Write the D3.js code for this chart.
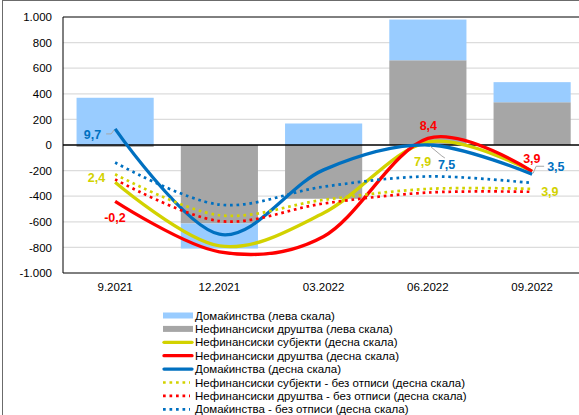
<!DOCTYPE html>
<html>
<head>
<meta charset="utf-8">
<script src="https://cdn.jsdelivr.net/npm/d3@7"></script>
<style>
  html, body { margin: 0; padding: 0; background: #fff; }
  svg { display: block; font-family: "Liberation Sans", Arial, sans-serif; }
</style>
</head>
<body>
<svg id="chart" width="579" height="415"></svg>
<script>
// Quarters on the horizontal axis
const categories = ["9.2021", "12.2021", "03.2022", "06.2022", "09.2022"];

// Bars, left scale (million denars)
const householdsBar = [369, -196, 168, 318, 157];
const corporatesBar = [-15, -613, -420, 662, 334];

// Lines, right scale (growth rates, %)
const nonFinSubjects = [2.4, -6.3, -1.8, 7.9, 3.9];
const nonFinCorporates = [-0.2, -7.1, -5.0, 8.4, 3.9];
const householdsRate = [9.7, -4.7, 4.1, 7.5, 3.5];
const nonFinSubjectsExWo = [3.5, -2.1, 0.0, 1.5, 1.5];
const nonFinCorporatesExWo = [2.8, -2.9, -0.5, 1.0, 1.1];
const householdsRateExWo = [5.1, -0.65, 1.8, 3.2, 2.3];

// Axis ticks
const leftTicks = [-1000, -800, -600, -400, -200, 0, 200, 400, 600, 800, 1000];

// Legend texts
const legendLabels = [
  "Домаќинства (лева скала)",
  "Нефинансиски друштва (лева скала)",
  "Нефинансиски субјекти (десна скала)",
  "Нефинансиски друштва (десна скала)",
  "Домаќинства (десна скала)",
  "Нефинансиски субјекти - без отписи (десна скала)",
  "Нефинансиски друштва - без отписи (десна скала)",
  "Домаќинства - без отписи (десна скала)"
];

const C = {
  lightBlue: "#99CCFF",
  gray: "#A6A6A6",
  yellow: "#D2D200",
  red: "#FF0000",
  blue: "#0070C0"
};

const svg = d3.select("#chart");
const plot = { left: 63, top: 17, right: 584.25, bottom: 273 };

// Outer chart frame
svg.append("rect")
  .attr("x", 2.5).attr("y", 0.5)
  .attr("width", 700).attr("height", 600)
  .attr("fill", "none").attr("stroke", "#6b6b6b").attr("stroke-width", 1);

const x = d3.scaleBand().domain(categories)
  .range([plot.left, plot.right]).paddingInner(0.26).paddingOuter(0.13);
const yL = d3.scaleLinear().domain([-1000, 1000]).range([plot.bottom, plot.top]);
const yR = d3.scaleLinear().domain([-10, 25]).range([plot.bottom, plot.top]);

const mk = d3.formatLocale({ decimal: ",", thousands: ".", grouping: [3], currency: ["", ""], minus: "-" });
const fmtTick = mk.format(",d");
const fmtVal = mk.format(".1f");

// Gridlines
svg.append("g").selectAll("line")
  .data(leftTicks.filter(d => d !== 0 && d !== -1000 && d !== 1000))
  .join("line")
  .attr("x1", plot.left).attr("x2", plot.right)
  .attr("y1", d => yL(d)).attr("y2", d => yL(d))
  .attr("stroke", "#DCDCDC").attr("stroke-width", 1.2);

// Stacked bars (diverging around zero)
const rows = categories.map((c, i) => ({ cat: c, corp: corporatesBar[i], hh: householdsBar[i] }));
const stack = d3.stack().keys(["corp", "hh"]).offset(d3.stackOffsetDiverging)(rows);
const barColor = { corp: C.gray, hh: C.lightBlue };
svg.append("g").selectAll("g")
  .data(stack).join("g")
  .attr("fill", d => barColor[d.key])
  .selectAll("rect")
  .data(d => d).join("rect")
  .attr("x", d => x(d.data.cat))
  .attr("width", x.bandwidth())
  .attr("y", d => yL(Math.max(d[0], d[1])))
  .attr("height", d => Math.abs(yL(d[0]) - yL(d[1])));

// Plot frame and zero line
const frame = svg.append("g").attr("stroke", "#000").attr("stroke-width", 1);
frame.append("line").attr("x1", plot.left).attr("x2", plot.right)
  .attr("y1", plot.top).attr("y2", plot.top);
frame.append("line").attr("x1", plot.left).attr("x2", plot.right)
  .attr("y1", plot.bottom).attr("y2", plot.bottom);
frame.append("line").attr("x1", plot.left).attr("x2", plot.left)
  .attr("y1", plot.top).attr("y2", plot.bottom);
frame.append("line").attr("x1", plot.left).attr("x2", plot.right)
  .attr("y1", yL(0)).attr("y2", yL(0)).attr("stroke-width", 1.3);

// Left axis labels
const axisL = d3.axisLeft(yL).tickValues(leftTicks).tickFormat(fmtTick).tickSize(0).tickPadding(11);
const gL = svg.append("g").attr("transform", `translate(${plot.left},0)`).call(axisL);
gL.select(".domain").remove();
gL.selectAll("text").attr("font-size", 11.5).attr("fill", "#000")
  .attr("font-family", "'Liberation Sans', Arial, sans-serif");

// Category labels
const axisB = d3.axisBottom(x).tickSize(0).tickPadding(10);
const gB = svg.append("g").attr("transform", `translate(0,${plot.bottom})`).call(axisB);
gB.select(".domain").remove();
gB.selectAll("text").attr("font-size", 11.5).attr("fill", "#000")
  .attr("font-family", "'Liberation Sans', Arial, sans-serif");

// Smoothed lines on the right scale
const cx = c => x(c) + x.bandwidth() / 2;
const line = d3.line()
  .x((d, i) => cx(categories[i]))
  .y(d => yR(d))
  .curve(d3.curveCatmullRom.alpha(0));

const series = [
  { values: nonFinSubjects, color: C.yellow, dotted: false },
  { values: nonFinCorporates, color: C.red, dotted: false },
  { values: householdsRate, color: C.blue, dotted: false },
  { values: nonFinSubjectsExWo, color: C.yellow, dotted: true },
  { values: nonFinCorporatesExWo, color: C.red, dotted: true },
  { values: householdsRateExWo, color: C.blue, dotted: true }
];

svg.append("g").selectAll("path")
  .data(series).join("path")
  .attr("d", d => line(d.values))
  .attr("fill", "none")
  .attr("stroke", d => d.color)
  .attr("stroke-width", d => d.dotted ? 2.7 : 3.3)
  .attr("stroke-dasharray", d => d.dotted ? "2.7 3.8" : null)
  .attr("stroke-linejoin", "round");

// Value labels: series index, point index, offset from the point, anchor, optional leader
const valueLabels = [
  { s: 2, i: 0, dx: -14, dy: 10, anchor: "end", leader: [[-9, 5], [-4, 5], [-1, 1]] },
  { s: 0, i: 0, dx: -10, dy: 0, anchor: "end" },
  { s: 1, i: 0, dx: -11, dy: 21, anchor: "start" },
  { s: 1, i: 3, dx: 0.5, dy: -8.5, anchor: "middle" },
  { s: 0, i: 3, dx: -14, dy: 24, anchor: "start" },
  { s: 2, i: 3, dx: 10, dy: 24, anchor: "start", leader: [[17, 13], [14, 11], [2, 1]] },
  { s: 1, i: 4, dx: -9, dy: -8, anchor: "start" },
  { s: 2, i: 4, dx: 15, dy: -3, anchor: "start", leader: [[12, -8], [4, -8], [1, -1]] },
  { s: 0, i: 4, dx: 9, dy: 25, anchor: "start" }
];

const lbl = svg.append("g");
valueLabels.forEach(l => {
  const s = series[l.s];
  const px = cx(categories[l.i]);
  const py = yR(s.values[l.i]);
  if (l.leader) {
    lbl.append("polyline")
      .attr("points", l.leader.map(p => `${px + p[0]},${py + p[1]}`).join(" "))
      .attr("fill", "none").attr("stroke", "#A6A6A6").attr("stroke-width", 1);
  }
  lbl.append("text")
    .attr("x", px + l.dx).attr("y", py + l.dy)
    .attr("text-anchor", l.anchor)
    .attr("font-size", 12.5).attr("font-weight", "bold")
    .attr("fill", s.color)
    .text(fmtVal(s.values[l.i]));
});

// Legend
const legendItems = [
  { kind: "rect", color: C.lightBlue },
  { kind: "rect", color: C.gray },
  { kind: "line", color: C.yellow },
  { kind: "line", color: C.red },
  { kind: "line", color: C.blue },
  { kind: "dots", color: C.yellow },
  { kind: "dots", color: C.red },
  { kind: "dots", color: C.blue }
];
const legend = svg.append("g").attr("transform", "translate(163,315.5)");
const rowH = 13.4;
legendItems.forEach((it, i) => {
  const g = legend.append("g").attr("transform", `translate(0,${i * rowH})`);
  if (it.kind === "rect") {
    g.append("rect").attr("x", 0).attr("y", -3).attr("width", 30).attr("height", 6).attr("fill", it.color);
  } else if (it.kind === "line") {
    g.append("line").attr("x1", 1).attr("x2", 29).attr("y1", 0).attr("y2", 0)
      .attr("stroke", it.color).attr("stroke-width", 3.3).attr("stroke-linecap", "round");
  } else {
    g.append("line").attr("x1", 0).attr("x2", 27).attr("y1", 0).attr("y2", 0)
      .attr("stroke", it.color).attr("stroke-width", 2.7).attr("stroke-dasharray", "2.7 3.8");
  }
  g.append("text").attr("x", 32).attr("y", 0).attr("dy", "0.36em")
    .attr("font-size", 11.5).attr("fill", "#000")
    .text(legendLabels[i]);
});
</script>
</body>
</html>
